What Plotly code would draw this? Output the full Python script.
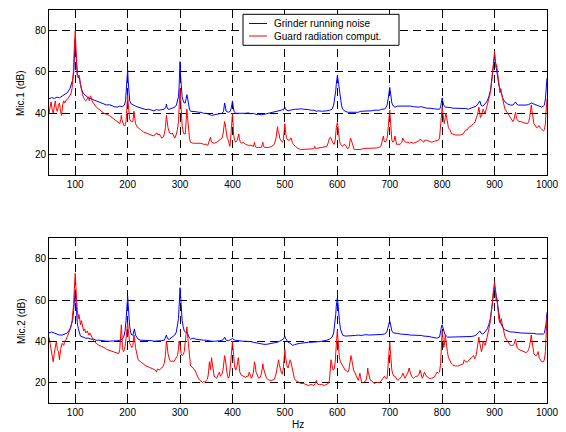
import plotly.graph_objects as go

# ---------------- data (Hz, dB) ----------------
X_TICKS = [100, 200, 300, 400, 500, 600, 700, 800, 900, 1000]
Y_TICKS = [20, 40, 60, 80]
SERIES_NAMES = ["Grinder running noise", "Guard radiation comput."]
Y_TITLES = ["Mic.1 (dB)", "Mic.2 (dB)"]

MIC1_GRINDER = [(50,47),(55,47.6),(60,47.2),(65,47.8),(70,47.5),(75,48.3),(80,48.8),(85,50),(90,52),(93,54),(95,56),(97,59),(98,63),(99,70),(100,76),(101,70),(102,63),(104,59),(106,58),(108,57),(110,54),(113,51),(116,49.5),(120,48.5),(125,47.5),(130,47),(135,46.5),(140,46),(145,45.2),(150,44.8),(155,44.5),(160,44),(165,44.2),(170,43.5),(175,43.2),(180,43),(185,43.5),(190,43.2),(194,44),(196,46),(198,52),(199,57),(200,61),(201,56),(202,50),(204,46),(207,44.5),(210,44),(215,43.5),(220,43),(225,42.5),(230,42.3),(235,41.8),(240,42),(245,41.5),(250,41.2),(255,41.8),(260,41.5),(265,41.8),(270,42),(273,43),(274,44.5),(275,43),(277,42),(280,42),(285,42.5),(290,43),(293,44),(295,46),(297,48),(298,52),(299,58),(300,65),(301,58),(302,52),(304,48),(306,46),(308,45),(310,45),(312,47),(313,49),(314,48),(316,44),(318,42),(320,41),(325,41),(330,40.8),(335,40.5),(340,40.5),(345,40),(350,40),(355,39.5),(360,39),(365,39.3),(370,39.5),(375,39.5),(380,40),(383,41),(385,45),(386,44),(388,41),(392,40.5),(396,41),(398,43),(400,46),(401,44),(403,41),(406,40),(410,40),(415,40),(420,39.8),(425,40),(430,40.2),(435,39.8),(440,40),(445,39.5),(450,39.5),(455,39.3),(460,39.5),(465,39.8),(470,40),(475,40.3),(480,40.5),(485,40.8),(490,41),(493,41.5),(495,42),(497,41.5),(499,42.5),(500,43),(501,42),(503,41.5),(506,41.2),(510,41.5),(515,41.8),(520,42),(525,42),(530,42.2),(535,42),(540,42),(545,41.8),(550,41.5),(555,41.5),(560,41),(565,41.2),(570,41),(575,41),(580,41.2),(585,41.5),(590,42),(593,44),(595,47),(597,51),(598,54),(599,57),(600,58),(601,57),(602,55),(604,50),(606,46),(608,44),(610,42),(615,41),(620,40.5),(625,40.5),(630,40.3),(635,40.5),(640,40.5),(645,41),(650,41),(655,41),(660,41),(665,41.2),(670,41.5),(675,41.5),(680,41.5),(685,42),(690,42),(693,43),(695,44),(697,47),(698,50),(699,52),(700,52.5),(701,51),(702,48),(704,45),(707,43.5),(710,43),(715,43.5),(720,43.5),(725,43.8),(730,43.5),(735,43.5),(740,43.5),(745,43.2),(750,43),(755,43),(760,43.2),(765,42.8),(770,42.5),(775,42.5),(780,42.5),(785,42.2),(790,42),(795,42),(797,43),(799,46),(800,47.5),(801,46),(803,44),(806,43),(810,43),(815,42.8),(820,42.5),(825,42.5),(830,42.5),(835,42.3),(840,42.5),(845,42.3),(850,42),(855,42.5),(860,43),(865,43.5),(868,44.5),(870,45.5),(872,46),(874,44),(877,43.5),(880,44),(883,45),(886,46),(889,48),(892,51),(894,55),(896,59),(898,64),(899,66),(900,68),(901,66),(902,64),(904,60),(906,57),(908,54),(910,52),(913,49),(916,47),(920,45.5),(925,44.5),(930,44),(935,44),(940,45.5),(942,44.5),(945,44),(950,44),(955,43.8),(960,44),(965,44.2),(970,45),(975,44.5),(980,44),(985,43.5),(990,43),(993,43.5),(995,44),(997,47),(998,50),(999,54),(1000,57)]

MIC1_GUARD = [(50,40),(52,43),(54,45.5),(56,42),(58,40),(60,43),(62,46),(64,42),(66,41),(68,44),(70,45),(72,41),(74,39),(76,44),(78,46),(80,45),(83,46.5),(86,47),(89,48),(92,49.5),(94,52),(96,57),(97,62),(98,70),(99,76),(100,80),(101,74),(102,65),(103,60),(104,58),(105,57.5),(106,57),(107,58.5),(108,58),(110,54),(112,51),(114,49),(116,47.5),(118,47),(120,46),(122,46.5),(125,48),(127,46),(129,48.5),(131,47.5),(133,45.5),(136,44.5),(140,43),(145,42),(150,41),(155,40),(160,39.5),(165,39),(170,38),(175,37),(180,36),(183,35.5),(185,35),(187,37),(188,39),(189,37),(191,35),(193,34),(195,34),(197,36),(198,40),(199,45),(200,49),(201,45),(202,40),(204,37),(207,36),(210,36),(212,41),(213,39),(215,35),(218,33.5),(220,33),(225,32),(230,31),(235,30.5),(240,30),(245,29.5),(250,29),(253,30),(256,30.5),(258,29.5),(260,30),(263,29),(265,28),(268,28.5),(270,30),(272,33),(274,39),(275,37),(277,33),(280,30.5),(283,30),(285,30.5),(288,29),(290,28),(293,30),(295,32),(297,36),(298,42),(299,48),(300,52),(301,47),(302,40),(304,34),(306,31),(308,30),(310,30),(311,35),(313,42),(314,39),(316,33),(318,28),(320,26),(325,25.5),(330,25.5),(335,25.5),(340,25.5),(345,25),(350,25),(353,24.5),(355,26),(357,28),(358,28.5),(360,26),(365,25.5),(370,26),(375,27),(378,27.5),(380,28),(382,30),(384,34),(385,36),(386,35),(388,30),(390,28),(392,27),(394,25),(395,24),(396,26),(398,35),(399,38),(400,40),(401,36),(402,30),(404,27),(406,26),(409,27),(411,29),(412,30),(413,28),(415,26),(418,25.5),(420,26),(425,25),(430,24.5),(435,24.5),(440,24),(441,25),(442,26),(443,24.5),(445,23.5),(450,23.5),(455,23.5),(457,25),(458,26),(459,24),(462,23.5),(466,23.5),(470,23.5),(475,24),(480,25),(483,28),(485,33),(486,33.5),(487,31),(489,30),(490,28),(492,27),(495,26),(497,27),(499,32),(500,35),(501,32),(503,28),(506,27),(509,27),(511,28),(512,28),(514,26),(516,25),(520,24),(525,23),(530,22.5),(535,22.5),(540,22.5),(545,22.5),(550,22.5),(555,22.8),(557,24),(558,23),(560,23),(565,23.2),(570,23.5),(575,23.5),(580,24),(583,26),(585,28),(587,28.5),(589,27),(591,26),(594,25),(596,27),(598,33),(599,35),(600,35.5),(601,34),(602,31),(604,27),(606,25),(608,24.5),(610,24),(613,25),(616,24.5),(619,23),(621,23),(623,24),(625,28),(626,27.5),(628,26),(630,24),(632,22.5),(635,22.5),(640,22.5),(645,22.5),(650,23),(655,23),(660,23),(665,23),(670,23),(675,23.2),(680,23.5),(683,24),(685,26),(687,28.5),(688,29),(689,27),(691,26),(693,26.5),(695,28),(697,33),(698,38),(699,41),(700,41.5),(701,38),(702,32),(704,27),(706,26),(708,26.5),(710,29),(711,28),(713,25),(716,25),(720,25),(723,26),(725,28),(727,27),(730,26),(735,26),(738,25.5),(740,26),(745,25.5),(750,26),(755,26.5),(758,27.5),(760,27),(763,26),(765,26),(767,27),(770,27),(775,26.5),(780,26),(785,26.5),(790,27),(793,27),(795,28),(797,33),(798,38),(799,41),(800,43),(801,41),(802,38),(804,35),(806,38),(807,40),(808,39),(810,35),(812,33),(815,32),(818,30),(820,30),(825,29.5),(830,29.5),(835,29.5),(840,30),(843,31),(845,32),(848,32),(850,33),(853,33.5),(856,34),(860,35),(863,36),(866,38),(868,40),(870,43),(871,41),(873,38),(875,38.5),(878,42),(880,41),(882,40),(884,42),(886,44),(888,45),(890,47),(892,50),(894,54),(896,59),(897,63),(898,66),(899,68),(900,70),(901,67),(902,63),(903,62),(904,63.5),(905,62),(906,59),(908,55),(909,52),(910,50),(911,51),(912,52),(913,50),(915,47),(918,44),(920,42),(925,40),(930,38),(933,37),(935,36),(937,37),(939,39),(940,40.5),(941,39),(943,37),(946,36),(950,36),(955,35.5),(960,35),(963,35),(965,36),(967,38),(969,42),(970,44),(971,42),(973,37),(975,35),(978,34),(980,33),(983,33.5),(985,34),(987,33),(990,32),(993,31.5),(995,32),(997,35),(998,40),(999,44),(1000,47)]

MIC2_GRINDER = [(50,44),(55,44.5),(60,44),(65,43.5),(70,43),(75,43),(80,43.5),(85,44),(90,46),(93,48),(95,50),(97,55),(98,59),(99,63),(100,65),(101,61),(102,55),(104,49),(106,46),(108,44),(110,42.5),(115,42),(120,41.5),(125,41.5),(130,41),(135,41),(140,40.5),(145,40.5),(150,40.5),(155,40.2),(160,40),(165,40),(170,40),(175,40),(180,40.2),(185,40.5),(190,41),(193,42.5),(195,45),(197,50),(198,55),(199,60),(200,62),(201,58),(202,53),(204,47),(206,44),(208,43),(210,43),(212,46),(213,46),(215,43),(218,41.5),(220,41),(225,40.5),(230,40.5),(235,40.5),(240,40.3),(245,40.3),(250,40),(255,40),(260,40.2),(265,40.3),(270,40.5),(273,42),(274,43),(275,42),(277,41),(280,41),(285,42),(290,43),(293,44.5),(295,47),(297,51),(298,56),(299,62),(300,66),(301,62),(302,56),(304,50),(306,47),(308,45),(310,44.5),(312,44),(313,44.5),(315,43),(318,41.5),(320,41),(325,41.5),(330,41),(335,40.8),(340,40.5),(345,40.5),(350,40.5),(355,40.2),(360,40),(365,40),(370,40),(375,40.2),(380,40.5),(383,41),(385,42),(386,41.5),(388,40.5),(392,40.2),(396,40.5),(398,41),(400,41.5),(402,40.8),(405,40.5),(410,40.3),(415,40),(420,40),(425,40),(430,40),(435,39.8),(440,39.5),(445,39.2),(450,39),(455,38.8),(460,38.5),(465,38.5),(470,38.7),(475,38.8),(480,39),(485,39.5),(490,40),(493,40.5),(495,41),(497,41),(499,42),(500,42.5),(501,41.5),(503,40.5),(506,39.5),(510,39),(513,38.5),(515,38),(518,38.3),(520,38.5),(525,38.8),(530,39),(535,39.2),(540,39.5),(545,39.5),(550,39.5),(555,39.5),(560,39.5),(565,39.8),(570,40),(575,40.2),(580,40.5),(585,41),(590,42),(593,44),(595,48),(597,53),(598,57),(599,60),(600,61),(601,59),(602,55),(604,50),(606,46),(608,44),(610,43),(615,42.5),(620,42.5),(625,42.5),(630,42.5),(635,42.8),(640,43),(645,42.8),(650,43),(655,43.2),(660,43),(665,43),(670,43.2),(675,43),(680,43.2),(685,43.3),(690,43.5),(693,44),(695,45),(697,47),(698,48.5),(699,50),(700,50),(701,49),(702,47.5),(704,45),(707,44),(710,44),(715,43.8),(720,43.5),(725,43.5),(730,43.5),(735,43.2),(740,43),(745,43),(750,43),(755,43),(760,42.8),(765,42.5),(770,42.5),(775,42.3),(780,42),(785,41.8),(790,41.5),(795,42),(797,44),(798,46),(799,47.5),(800,48),(801,47),(803,45),(805,43.5),(808,42.5),(810,42),(815,42),(820,42),(825,42),(830,42),(835,42),(840,42),(845,42),(850,42),(855,42.3),(860,42.5),(865,43),(868,44),(870,44.5),(872,45),(874,44),(877,43.5),(880,44),(883,45),(886,46),(889,48),(892,51),(894,55),(896,60),(898,65),(899,66.5),(900,67),(901,66),(902,64),(904,60),(906,56),(908,53),(910,50.5),(913,48),(916,46.5),(920,45.5),(925,45),(930,44.5),(935,44.5),(940,44.5),(945,44.2),(950,44),(955,44),(960,44),(965,44),(970,44),(975,43.8),(980,43.5),(985,43.5),(990,43.5),(993,43.5),(995,44),(997,46),(998,48),(999,51),(1000,54)]

MIC2_GUARD = [(50,42),(52,39),(54,35),(56,32),(58,30),(60,34),(62,37),(64,40),(66,36),(68,35),(70,31),(72,36),(75,39),(78,38),(80,40),(83,41),(86,43),(89,45),(92,47),(94,50),(96,54),(97,58),(98,64),(99,70),(100,73),(101,68),(102,62),(103,58),(104,55),(106,51),(107,53),(108,52),(110,48),(112,50),(114,47),(116,45),(118,46),(120,44),(123,45),(126,43),(128,44),(130,43),(133,41),(136,40),(140,39),(145,38),(150,37.5),(155,37),(160,36),(165,35.5),(170,35),(175,34.5),(180,34),(183,34),(185,36),(187,42),(188,48),(189,44),(190,37),(192,35),(194,36),(196,39),(198,44),(199,47),(200,49),(201,46),(202,42),(204,39),(206,38),(208,37),(210,38),(212,43),(213,42),(215,37),(218,33),(220,31),(225,30),(230,29),(235,28),(240,27.5),(245,27),(250,26.5),(253,26),(255,25),(257,26.5),(260,26),(263,26.5),(265,27),(268,28),(270,29.5),(272,33),(274,40),(275,39),(277,34),(280,31),(283,30),(285,30.5),(288,30),(290,31),(293,32),(295,33),(297,36),(298,40),(299,39),(300,38),(302,34),(304,33),(306,33.5),(308,35),(310,40),(311,44),(313,47),(314,44),(316,37),(318,31),(320,28),(323,27.5),(325,27),(328,26),(330,25),(333,23),(335,22),(338,21),(340,20.5),(343,20),(345,20.5),(348,20),(350,21),(352,21.5),(354,24),(356,30),(357,28),(358,26),(360,32),(361,30),(363,26),(365,23),(368,22.5),(370,22),(373,24),(375,25),(377,23),(380,24),(382,26),(384,30),(385,33),(386,32),(388,27),(390,24),(392,22),(394,23),(396,28),(398,37),(399,39),(400,40),(401,37),(402,33),(404,28),(406,26),(408,27),(410,30),(411,32),(412,30),(414,25),(417,23.5),(420,23),(425,22.5),(428,23),(430,23),(432,25),(434,23),(436,22),(438,23),(440,25),(442,30),(443,29),(445,25),(448,22.5),(450,22),(453,22.5),(455,24),(457,27),(458,29),(459,27),(461,25),(463,23),(465,22),(468,21.5),(470,21),(475,21),(480,21.5),(483,24),(485,27),(487,30),(488,31),(489,29),(491,26),(493,25),(495,24),(497,27),(499,33),(500,36),(501,33),(502,30),(504,28),(506,27),(508,29),(510,31),(511,30.5),(513,28),(515,25),(518,22),(520,21),(523,20.5),(525,20.5),(528,20),(530,19.5),(535,19.5),(540,19),(545,18.5),(550,19),(555,18.5),(558,19.5),(560,21),(561,20),(563,19),(566,19),(570,19),(575,18.5),(580,19),(583,19.5),(585,21),(587,27),(588,31),(589,30),(590,28),(592,26),(594,26.5),(596,30),(598,38),(599,43),(600,45),(601,42),(602,37),(604,32),(606,30),(608,29),(610,28),(612,27.5),(615,26),(618,25.5),(620,25),(622,26),(624,30),(626,33),(627,32),(629,28),(631,26),(633,25),(635,24),(638,22),(640,21),(642,23),(643,24.5),(644,23),(646,20.5),(648,20),(650,20),(653,20.5),(655,21),(657,24),(658,27),(659,25),(661,22),(663,21),(665,21),(668,20),(670,19.5),(675,20),(680,20),(683,20.5),(685,21),(687,22),(690,23),(692,22),(695,22),(697,30),(698,36),(699,39),(700,39.5),(701,36),(702,31),(704,26),(706,24),(708,23),(710,23),(713,22),(715,21),(718,21.5),(720,22),(723,23),(725,24.5),(727,23),(729,22),(731,23),(733,24),(735,25),(737,27),(738,26),(740,24),(743,22.5),(745,22),(748,22.5),(750,23),(753,23),(756,24),(758,26),(760,24),(762,22),(764,23),(766,25),(768,24),(770,23),(773,22.5),(775,22),(780,22),(785,22.5),(788,24),(790,25),(793,24.5),(795,25),(797,29),(798,34),(799,41),(800,45),(801,43),(802,39),(803,37),(804,38),(805,41),(806,43),(807,41),(808,38),(810,35),(812,32),(815,30),(818,29),(820,28.5),(825,28),(830,28),(835,28.5),(840,29),(842,31),(843,30.5),(845,30),(848,30),(850,30.5),(853,31),(855,31.5),(858,32),(860,33),(862,31.5),(864,32.5),(866,35),(868,38),(870,42),(871,40),(873,37),(875,35),(877,37),(878,40),(880,39),(882,38),(884,40),(886,42),(888,44),(890,47),(892,50),(894,54),(896,59),(897,63),(898,66),(899,68),(900,69),(901,66),(902,62),(903,60),(904,61),(905,60),(906,57),(907,53),(908,51),(910,49),(912,50),(913,51),(914,49),(916,46),(918,44),(920,42),(925,40),(928,39),(930,38),(933,38),(935,38),(937,38.5),(939,40),(940,41),(941,39.5),(943,37),(946,36),(950,35.5),(955,35),(960,34.5),(963,35),(965,36),(967,38),(969,41),(970,43),(971,41),(973,36),(975,34),(978,33),(980,33),(982,34),(983,35),(985,32),(987,31),(990,30),(993,30),(995,31),(997,35),(998,41),(999,47),(1000,52)]

# ---------------- figure ----------------
FONT = "Liberation Sans, Arial, Helvetica, sans-serif"
BLUE = "#0000ff"
RED = "#ff0000"
W, H = 566, 432
ML, MR, MT, MB = 49, 19, 10, 29
PW, PH = W - ML - MR, H - MT - MB


def px(xp):
    return (xp - ML) / PW


def py(yp):
    return 1 - (yp - MT) / PH


fig = go.Figure()


def add(series, name, color, xa, ya):
    xs = [p[0] for p in series]
    ys = [p[1] for p in series]
    fig.add_trace(go.Scatter(x=xs, y=ys, mode="lines", name=name,
                             line=dict(color=color, width=1),
                             xaxis=xa, yaxis=ya, showlegend=False))


add(MIC1_GRINDER, SERIES_NAMES[0], BLUE, "x", "y")
add(MIC1_GUARD, SERIES_NAMES[1], RED, "x", "y")
add(MIC2_GRINDER, SERIES_NAMES[0], BLUE, "x2", "y2")
add(MIC2_GUARD, SERIES_NAMES[1], RED, "x2", "y2")

GRIDDASH = "8px,5px"


def xax(anchor):
    return dict(anchor=anchor, domain=[0, 1], range=[50, 1000], tickvals=X_TICKS,
                ticks="inside", ticklen=5, tickcolor="black", showline=True,
                linecolor="black", linewidth=1, mirror="allticks",
                showgrid=True, gridcolor="black", gridwidth=1, griddash=GRIDDASH,
                zeroline=False, tickfont=dict(family=FONT, size=10, color="black"))


def yax(anchor, dom):
    return dict(anchor=anchor, domain=dom, range=[10, 90], tickvals=Y_TICKS,
                ticks="inside", ticklen=5, tickcolor="black", showline=True,
                linecolor="black", linewidth=1, mirror="allticks",
                showgrid=True, gridcolor="black", gridwidth=1, griddash=GRIDDASH,
                zeroline=False, tickfont=dict(family=FONT, size=10, color="black"))


# legend drawn as a boxed key (compact, like the reference)
LEG_LEFT, LEG_RIGHT, LEG_TOP, LEG_BOTTOM = 243, 399, 14.3, 45.3
ROW_Y = [23.5, 36]
COLORS = [BLUE, RED]

shapes = [dict(type="rect", xref="paper", yref="paper",
               x0=px(LEG_LEFT), x1=px(LEG_RIGHT), y0=py(LEG_BOTTOM), y1=py(LEG_TOP),
               line=dict(color="black", width=1), fillcolor="white", layer="above")]
annotations = []
for name, col, ry in zip(SERIES_NAMES, COLORS, ROW_Y):
    shapes.append(dict(type="line", xref="paper", yref="paper",
                       x0=px(249), x1=px(267), y0=py(ry), y1=py(ry),
                       line=dict(color=col, width=1), layer="above"))
    annotations.append(dict(text=name, xref="paper", yref="paper", x=px(272), y=py(ry),
                            xanchor="left", yanchor="middle", showarrow=False,
                            font=dict(family=FONT, size=10, color="black")))

annotations += [
    dict(text=Y_TITLES[0], xref="paper", yref="paper", x=px(21), y=py(93),
         textangle=-90, showarrow=False, xanchor="center", yanchor="middle",
         font=dict(family=FONT, size=10)),
    dict(text=Y_TITLES[1], xref="paper", yref="paper", x=px(21), y=py(321),
         textangle=-90, showarrow=False, xanchor="center", yanchor="middle",
         font=dict(family=FONT, size=10)),
    dict(text="Hz", xref="paper", yref="paper", x=0.5, y=py(424.5),
         showarrow=False, xanchor="center", yanchor="middle",
         font=dict(family=FONT, size=10)),
]

fig.update_layout(
    width=W, height=H,
    margin=dict(l=ML, r=MR, t=MT, b=MB, autoexpand=False),
    paper_bgcolor="white", plot_bgcolor="white",
    font=dict(family=FONT, size=10, color="black"),
    showlegend=False,
    hovermode=False,
    xaxis=xax("y"), yaxis=yax("x", [py(175.3), 1]),
    xaxis2=xax("y2"), yaxis2=yax("x2", [0, py(238.3)]),
    shapes=shapes,
    annotations=annotations,
)

fig.write_html("out.html", config={"displayModeBar": False, "staticPlot": True},
               post_script="document.body.style.margin='0px';document.body.style.padding='0px';")
